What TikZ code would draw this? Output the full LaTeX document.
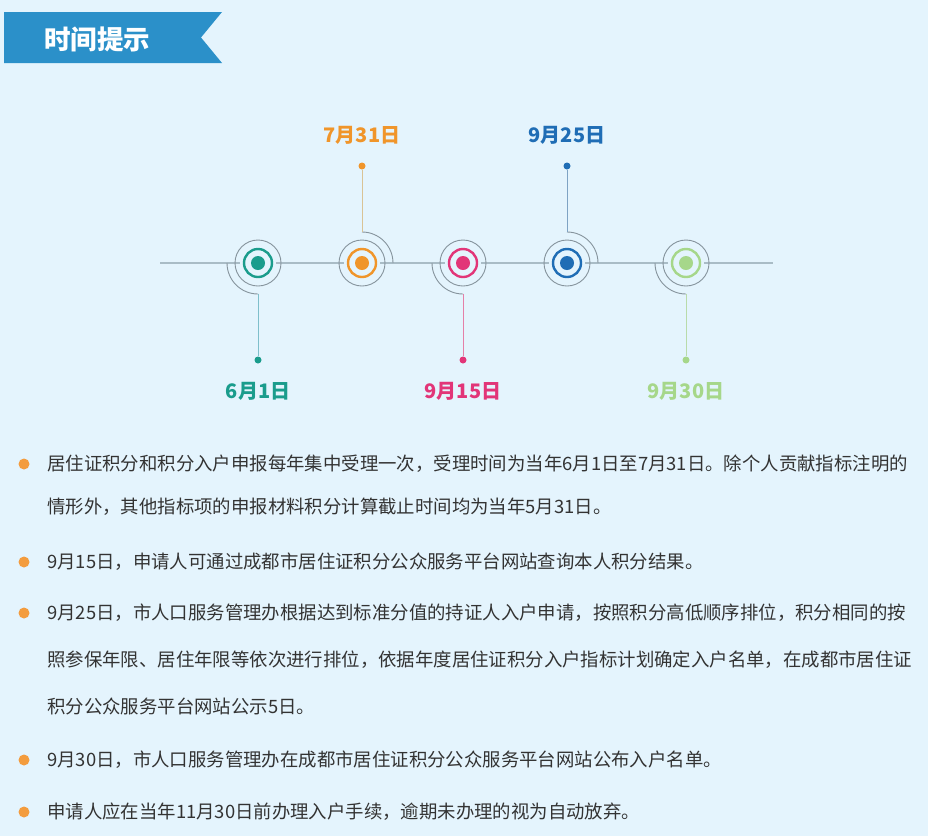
\documentclass[tikz,border=0pt]{standalone}
\usepackage{fontspec}
\setmainfont{Noto Sans CJK SC}
\newfontfamily\cjk{Noto Sans CJK SC}
\definecolor{bgc}{HTML}{E4F4FD}
\definecolor{banner}{HTML}{2B90C9}
\definecolor{cteal}{HTML}{1A9C8C}
\definecolor{corange}{HTML}{F0952A}
\definecolor{cpink}{HTML}{E23578}
\definecolor{cblue}{HTML}{1F6DB5}
\definecolor{cgreen}{HTML}{A6D78A}
\definecolor{lteal}{HTML}{7FBFCB}
\definecolor{lorange}{HTML}{D9C395}
\definecolor{lpink}{HTML}{E57FA8}
\definecolor{lblue}{HTML}{7FA3C4}
\definecolor{lgreen}{HTML}{B9DBAA}
\definecolor{ringgray}{HTML}{85939C}
\definecolor{axisc}{HTML}{A9BCC6}
\definecolor{txt}{HTML}{333333}
\definecolor{bullet}{HTML}{F39C3E}
\tikzset{
  centerdot/.style={circle,fill=#1,minimum size=14pt,inner sep=0pt},
  enddot/.style={circle,fill=#1,minimum size=7pt,inner sep=0pt},
  ringline/.style={draw=#1,line width=2.4pt},
  grayring/.style={draw=ringgray,line width=0.9pt},
  datelabel/.style={text=#1,font=\fontsize{20}{23}\selectfont\bfseries,inner sep=0pt},
  stem/.style={draw=#1,line width=1pt},
  bodyline/.style={anchor=west,text=txt,font=\fontsize{18.4}{22}\selectfont,inner sep=0pt},
  bulletdot/.style={circle,fill=bullet,minimum size=11pt,inner sep=0pt},
}
\begin{document}
\begin{tikzpicture}[x=1pt,y=-1pt]
\useasboundingbox (0,0) rectangle (928,836);
\fill[bgc] (0,0) rectangle (928,836);
% banner
\fill[banner] (4,12) -- (222,12) -- (201,37.5) -- (222,63) -- (4,63) -- cycle;
\node[text=white,font=\fontsize{26.5}{29}\selectfont\bfseries,inner sep=0pt] (title) at (97,39) {时间提示};
% axis
\coordinate (axL) at (160,263);
\coordinate (axR) at (773,263);
\draw[axisc,line width=1.4pt] (axL) -- (axR);
% markers
\foreach \n/\x/\c in {c1/258/cteal,c2/362/corange,c3/463/cpink,c4/567/cblue,c5/686/cgreen}{
  \fill[bgc] (\x,263) circle[radius=18];
  \draw[grayring] (\x,263) circle[radius=23];
  \draw[ringline=\c] (\x,263) circle[radius=14];
  \node[centerdot=\c] (\n) at (\x,263) {};
}
% arcs: lower-left for c1,c3,c5 ; upper-right for c2,c4
\foreach \x in {258,463,686}{
  \draw[grayring] (\x-31,263) arc[start angle=180,end angle=90,radius=31];
}
\foreach \x in {362,567}{
  \draw[grayring] (\x,232) arc[start angle=-90,end angle=0,radius=31];
}
\coordinate (a1) at (258,294);
\coordinate (a2) at (362,232);
\coordinate (a3) at (463,294);
\coordinate (a4) at (567,232);
\coordinate (a5) at (686,294);
% end dots
\node[enddot=cteal] (d1) at (258,360) {};
\node[enddot=corange] (d2) at (362,166) {};
\node[enddot=cpink] (d3) at (463,360) {};
\node[enddot=cblue] (d4) at (567,166) {};
\node[enddot=cgreen] (d5) at (686,360) {};
\draw[stem=lteal] (a1) -- (d1);
\draw[stem=lorange] (a2) -- (d2);
\draw[stem=lpink] (a3) -- (d3);
\draw[stem=lblue] (a4) -- (d4);
\draw[stem=lgreen] (a5) -- (d5);
% labels
\node[datelabel=cteal] (l1) at (258,391) {6月1日};
\node[datelabel=corange] (l2) at (362,135) {7月31日};
\node[datelabel=cpink] (l3) at (463,391) {9月15日};
\node[datelabel=cblue] (l4) at (567,135) {9月25日};
\node[datelabel=cgreen] (l5) at (686,391) {9月30日};
% body text
\node[bulletdot] (b1) at (24,464) {};
\node[bodyline] (t1) at (47,464) {居住证积分和积分入户申报每年集中受理一次，受理时间为当年6月1日至7月31日。除个人贡献指标注明的};
\node[bodyline] (t2) at (47,507) {情形外，其他指标项的申报材料积分计算截止时间均为当年5月31日。};
\node[bulletdot] (b2) at (24,562) {};
\node[bodyline] (t3) at (47,562) {9月15日，申请人可通过成都市居住证积分公众服务平台网站查询本人积分结果。};
\node[bulletdot] (b3) at (24,613) {};
\node[bodyline] (t4) at (47,613) {9月25日，市人口服务管理办根据达到标准分值的持证人入户申请，按照积分高低顺序排位，积分相同的按};
\node[bodyline] (t5) at (47,660) {照参保年限、居住年限等依次进行排位，依据年度居住证积分入户指标计划确定入户名单，在成都市居住证};
\node[bodyline] (t6) at (47,706) {积分公众服务平台网站公示5日。};
\node[bulletdot] (b4) at (24,760) {};
\node[bodyline] (t7) at (47,760) {9月30日，市人口服务管理办在成都市居住证积分公众服务平台网站公布入户名单。};
\node[bulletdot] (b5) at (24,812) {};
\node[bodyline] (t8) at (47,812) {申请人应在当年11月30日前办理入户手续，逾期未办理的视为自动放弃。};
\end{tikzpicture}
\end{document}
